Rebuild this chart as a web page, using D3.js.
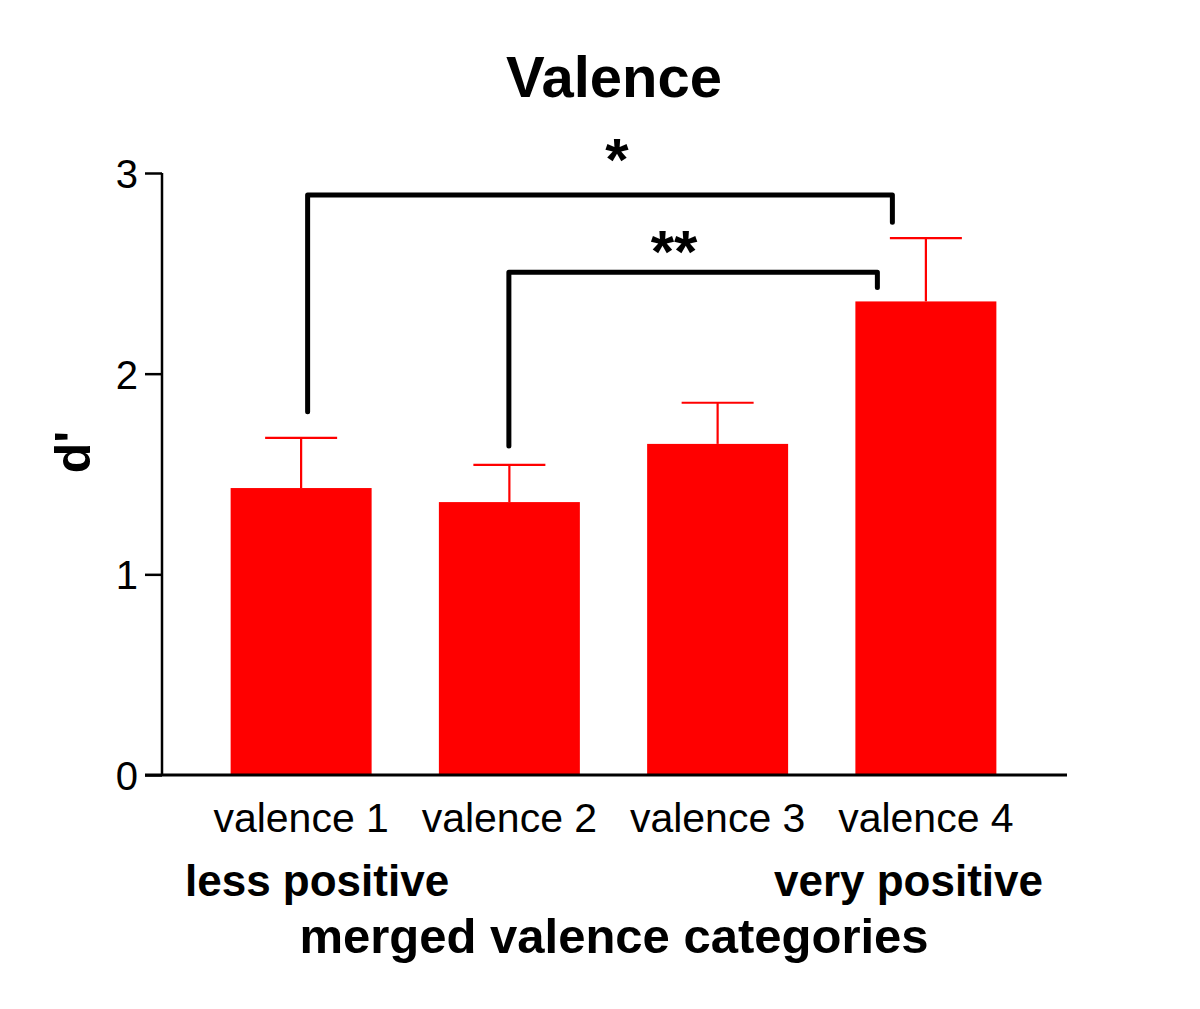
<!DOCTYPE html>
<html>
<head>
<meta charset="utf-8">
<script src="https://cdn.jsdelivr.net/npm/d3@7"></script>
<style>
  html, body { margin: 0; padding: 0; background: #fff; }
  svg { display: block; }
  text { font-family: "Liberation Sans", Arial, sans-serif; fill: #000; }
</style>
</head>
<body>
<svg id="chart" width="1200" height="1009"></svg>
<script>
// ---- data ----
const categories = ["valence 1", "valence 2", "valence 3", "valence 4"];
const means = [1.43, 1.36, 1.65, 2.36];
const sems = [0.25, 0.185, 0.205, 0.315];
const yTicks = [0, 1, 2, 3];
const brackets = [
  { from: "valence 1", to: "valence 4", top: 2.89, leftEnd: 1.81, rightEnd: 2.755, label: "*" },
  { from: "valence 2", to: "valence 4", top: 2.505, leftEnd: 1.64, rightEnd: 2.43, label: "**" }
];
const title = "Valence";
const yLabel = "d'";
const xLabel = "merged valence categories";
const leftNote = "less positive";
const rightNote = "very positive";

// ---- layout ----
const svg = d3.select("#chart");
const x = d3.scaleBand().domain(categories).range([197, 1030])
  .paddingInner(0.323).paddingOuter(0.1615);
const y = d3.scaleLinear().domain([0, 3]).range([775, 173]);
const axisX = 162;

// bars
svg.selectAll("rect.bar").data(categories).enter().append("rect")
  .attr("class", "bar")
  .attr("x", d => x(d))
  .attr("width", x.bandwidth())
  .attr("y", (d, i) => y(means[i]))
  .attr("height", (d, i) => y(0) - y(means[i]))
  .attr("fill", "#ff0000");

// error bars (upper only)
const capHalf = 36;
const eb = svg.append("g").attr("stroke", "#ff0000").attr("stroke-width", 2.2);
categories.forEach((c, i) => {
  const cx = x(c) + x.bandwidth() / 2;
  eb.append("line").attr("x1", cx).attr("x2", cx)
    .attr("y1", y(means[i])).attr("y2", y(means[i] + sems[i]));
  eb.append("line").attr("x1", cx - capHalf).attr("x2", cx + capHalf)
    .attr("y1", y(means[i] + sems[i])).attr("y2", y(means[i] + sems[i]));
});

// y axis
const yAxis = d3.axisLeft(y).tickValues(yTicks).tickFormat(d3.format("d"))
  .tickSize(17).tickPadding(7);
const gy = svg.append("g").attr("transform", `translate(${axisX},0)`).call(yAxis);
gy.select(".domain").attr("stroke", "#000").attr("stroke-width", 2.5)
  .attr("d", `M0,${y(3)}V${y(0)}`);
gy.selectAll(".tick line").attr("stroke", "#000").attr("stroke-width", 2.5);
gy.selectAll(".tick text").style("font-family", "'Liberation Sans', Arial, sans-serif")
  .style("font-size", "40px").attr("dy", "0.36em").attr("fill", "#000");

// x axis
const xAxis = d3.axisBottom(x).tickSize(0).tickPadding(28);
const gx = svg.append("g").attr("transform", `translate(0,${y(0)})`).call(xAxis);
gx.select(".domain").attr("stroke", "#000").attr("stroke-width", 3)
  .attr("d", `M${axisX - 17},0H1067`);
gx.selectAll(".tick text").style("font-family", "'Liberation Sans', Arial, sans-serif")
  .style("font-size", "41px").attr("fill", "#000").attr("dy", "0.71em");

// significance brackets
const offsets = [{ l: 6.5, r: -33.5 }, { l: -0.5, r: -48.5 }];
const labelPos = [{ dx: 617, base: 180 }, { dx: 674, base: 272 }];
brackets.forEach((b, i) => {
  const xl = x(b.from) + x.bandwidth() / 2 + offsets[i].l;
  const xr = x(b.to) + x.bandwidth() / 2 + offsets[i].r;
  svg.append("path")
    .attr("d", `M${xl},${y(b.leftEnd)}V${y(b.top)}H${xr}V${y(b.rightEnd)}`)
    .attr("fill", "none").attr("stroke", "#000").attr("stroke-width", 5)
    .attr("stroke-linejoin", "round").attr("stroke-linecap", "round");
  svg.append("text").attr("x", labelPos[i].dx).attr("y", labelPos[i].base)
    .attr("text-anchor", "middle").style("font-size", "60px").style("font-weight", "bold")
    .text(b.label);
});

// title
svg.append("text").attr("x", 614).attr("y", 97).attr("text-anchor", "middle")
  .style("font-size", "58px").style("font-weight", "bold").text(title);

// y label
svg.append("text").attr("transform", "translate(90,452) rotate(-90)")
  .attr("text-anchor", "middle").style("font-size", "50px").style("font-weight", "bold")
  .text(yLabel);

// notes
svg.append("text").attr("x", 185).attr("y", 896).attr("text-anchor", "start")
  .style("font-size", "44px").style("font-weight", "bold").text(leftNote);
svg.append("text").attr("x", 1043).attr("y", 896).attr("text-anchor", "end")
  .style("font-size", "44px").style("font-weight", "bold").text(rightNote);

// x label
svg.append("text").attr("x", 614).attr("y", 953).attr("text-anchor", "middle")
  .style("font-size", "49px").style("font-weight", "bold").text(xLabel);
</script>
</body>
</html>
